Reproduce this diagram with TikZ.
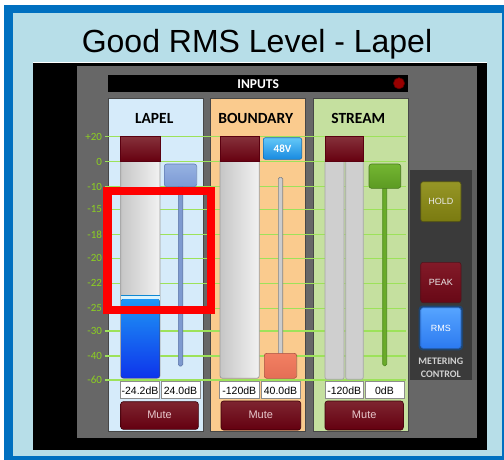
\documentclass[tikz,border=0pt]{standalone}
\usepackage{fontspec}
\setmainfont{Liberation Sans}
\newfontfamily\carl{Carlito}
\definecolor{frameblue}{HTML}{0070C0}
\definecolor{skyblue}{HTML}{B7DEE8}
\definecolor{panelgray}{HTML}{676767}
\definecolor{lapelbg}{HTML}{D6EBFA}
\definecolor{boundbg}{HTML}{FACB8E}
\definecolor{streambg}{HTML}{C5E09F}
\definecolor{gl}{HTML}{9DE25A}
\definecolor{glab}{HTML}{8CD020}
\definecolor{capT}{HTML}{85303A}
\definecolor{capB}{HTML}{66000F}
\definecolor{capD}{HTML}{5A0010}
\definecolor{mL}{HTML}{C6C6C6}
\definecolor{mR}{HTML}{F2F2F2}
\definecolor{mD}{HTML}{9A9A9A}
\definecolor{muT}{HTML}{7E2530}
\definecolor{muB}{HTML}{640010}
\definecolor{muD}{HTML}{3A0008}
\definecolor{muTx}{HTML}{E8C8CC}
\definecolor{ctrlbg}{HTML}{3A3A3A}
\definecolor{rmsglow}{HTML}{1E4673}
\begin{document}
\begin{tikzpicture}[x=1pt,y=-1pt,
  every node/.style={inner sep=0pt, outer sep=0pt},
  chpanel/.style={draw=black!72, line width=1.2pt},
  gridline/.style={draw=gl, line width=1.4pt},
  scalelbl/.style={anchor=east, text=glab, font=\carl\fontsize{11}{11}\selectfont},
  chtitle/.style={anchor=base, font=\carl\bfseries\fontsize{15.5}{16}\selectfont},
  capbox/.style={top color=capT, bottom color=capB, draw=capD, line width=0.6pt},
  meterbar/.style={left color=mL, right color=mR, draw=mD, line width=0.7pt, rounded corners=2.5pt},
  valbox/.style={fill=white, draw=black!45, line width=0.7pt},
  valtxt/.style={anchor=base, font=\fontsize{10.5}{11}\selectfont},
  mutebtn/.style={top color=muT, bottom color=muB, draw=muD, line width=0.6pt, rounded corners=2.5pt},
  mutetxt/.style={anchor=base, text=muTx, font=\fontsize{11}{11}\selectfont},
  ctrltxt/.style={text=black!8, font=\fontsize{9}{9}\selectfont},
  mctxt/.style={anchor=base, text=black!18, font=\carl\bfseries\fontsize{10}{10}\selectfont}
]
\useasboundingbox (0,0) rectangle (504,459);
\fill[white] (0,0) rectangle (504,459);
% outer frame
\fill[frameblue] (4,5) rectangle (510,465);
\fill[skyblue] (12.7,13) rectangle (501.7,456);
\node[anchor=base, font=\fontsize{32}{34}\selectfont] (title) at (257,52) {Good RMS Level - Lapel};
% black and gray panels
\fill[black] (33,62.3) rectangle (487,450);
\draw[white, line width=0.8pt] (33,62.3) -- (487,62.3);
\fill[panelgray] (76.5,66) rectangle (477,438.3);
% inputs bar
\fill[black] (108.3,74.7) rectangle (408.3,92.3);
\node[anchor=base, text=white, font=\carl\bfseries\fontsize{13.5}{14}\selectfont] (inputs) at (258.2,88.7) {INPUTS};
\filldraw[fill=red!60!black, draw=red!35!black, line width=0.6pt] (399,83.3) circle (5.6);
% channel panels
\filldraw[chpanel, fill=lapelbg] (108.3,98.7) rectangle (203.3,431.7);
\filldraw[chpanel, fill=boundbg] (210.7,98.7) rectangle (305.3,431.7);
\filldraw[chpanel, fill=streambg] (313.3,98.7) rectangle (408.3,431.7);
\node[chtitle] (tlapel) at (154.2,123) {LAPEL};
\node[chtitle] (tbound) at (255.7,123) {BOUNDARY};
\node[chtitle] (tstream) at (358.3,123) {STREAM};
% grid lines and scale labels
\foreach \yy/\lab [count=\i] in {136.7/+20,161.7/0,186.7/-10,209.3/-15,234.3/-18,258.3/-20,283.3/-22,308.3/-25,331/-30,356/-40,380/-60}{
  \draw[gridline] (105,\yy) -- (406,\yy);
  \node[scalelbl] (s\i) at (102,\yy) {\lab};
}
% control panel
\fill[ctrlbg] (410,170) rectangle (472.3,380);
\fill[panelgray!90!black] (472.3,170) rectangle (477,380);
% LAPEL strip
\draw[meterbar] (120.7,158) rectangle (160,378.3);
\fill[white!85!cyan] (121.2,294.5) rectangle (159.5,299.5);
\draw[cyan!70!blue, line width=0.9pt] (121.2,295.7) -- (159.5,295.7);
\fill[top color={rgb,255:red,30;green,150;blue,245}, bottom color={rgb,255:red,14;green,52;blue,235}, rounded corners=2.5pt] (121,299) rectangle (159.7,378);
\draw[capbox] (120.7,136.7) rectangle (160,161.7);
\filldraw[fill={rgb,255:red,126;green,154;blue,208}, draw={rgb,255:red,90;green,115;blue,168}, line width=0.6pt, rounded corners=1.5pt] (178.3,185) rectangle (182.7,366);
\draw[top color={rgb,255:red,150;green,178;blue,226}, bottom color={rgb,255:red,124;green,154;blue,212}, draw={rgb,255:red,96;green,124;blue,180}, line width=0.6pt, rounded corners=2.5pt] (164.3,164) rectangle (196.7,186.7);
\draw[valbox] (120.7,381.7) rectangle (159.3,398.3);
\draw[valbox] (161,381.7) rectangle (200,398.3);
\node[valtxt] (v1) at (140,394.3) {-24.2dB};
\node[valtxt] (v2) at (180.5,394.3) {24.0dB};
\draw[mutebtn] (120.7,401.7) rectangle (198.3,429.3);
\node[mutetxt] (m1) at (159.5,418.8) {Mute};
% BOUNDARY strip
\draw[meterbar] (220,158) rectangle (259.3,378.3);
\draw[capbox] (220,136.7) rectangle (259.3,161.7);
\draw[top color={rgb,255:red,100;green,200;blue,248}, bottom color={rgb,255:red,24;green,138;blue,224}, draw={rgb,255:red,20;green,110;blue,176}, line width=0.6pt, rounded corners=2pt] (263.3,137.7) rectangle (301.7,159.3);
\node[text=white, font=\carl\bfseries\fontsize{11}{11}\selectfont] (v48) at (282.5,148.5) {48V};
\filldraw[fill=black!20, draw=black!48, line width=0.6pt, rounded corners=1.5pt] (278.3,177.3) rectangle (282.7,356);
\draw[top color={rgb,255:red,242;green,128;blue,98}, bottom color={rgb,255:red,228;green,110;blue,86}, draw={rgb,255:red,170;green,84;blue,66}, line width=0.6pt, rounded corners=2.5pt] (264.3,353.3) rectangle (296.7,378.3);
\draw[valbox] (219.3,381.7) rectangle (259.3,398.3);
\draw[valbox] (261,381.7) rectangle (300,398.3);
\node[valtxt] (v3) at (239.3,394.3) {-120dB};
\node[valtxt] (v4) at (280.5,394.3) {40.0dB};
\draw[mutebtn] (221,401) rectangle (300.7,430);
\node[mutetxt] (m2) at (260.8,418.8) {Mute};
% STREAM strip
\filldraw[fill=black!19, draw=black!35, line width=0.7pt, rounded corners=2pt] (325,158) rectangle (344,379.3);
\filldraw[fill=black!19, draw=black!35, line width=0.7pt, rounded corners=2pt] (345.7,158) rectangle (363.3,379.3);
\draw[capbox] (325,136.7) rectangle (363.3,161.7);
\filldraw[fill={rgb,255:red,106;green,171;blue,42}, draw={rgb,255:red,78;green,138;blue,30}, line width=0.6pt, rounded corners=1.5pt] (382.7,187) rectangle (386.7,365.7);
\draw[top color={rgb,255:red,116;green,182;blue,50}, bottom color={rgb,255:red,92;green,154;blue,34}, draw={rgb,255:red,72;green,120;blue,30}, line width=0.6pt, rounded corners=2.5pt] (369,164) rectangle (400.7,188.3);
\draw[valbox] (325,381.7) rectangle (363.3,398.3);
\draw[valbox] (365,381.7) rectangle (404,398.3);
\node[valtxt] (v5) at (344.2,394.3) {-120dB};
\node[valtxt] (v6) at (384.5,394.3) {0dB};
\draw[mutebtn] (325,401) rectangle (403.3,430);
\node[mutetxt] (m3) at (364.2,418.8) {Mute};
% metering control buttons
\draw[top color={rgb,255:red,150;green,150;blue,38}, bottom color={rgb,255:red,122;green,122;blue,16}, draw={rgb,255:red,80;green,80;blue,20}, line width=0.6pt, rounded corners=2.5pt] (420.7,181.7) rectangle (461,221.7);
\node[ctrltxt] (hold) at (440.8,201.7) {HOLD};
\draw[top color={rgb,255:red,130;green,26;blue,40}, bottom color={rgb,255:red,104;green,8;blue,22}, draw={rgb,255:red,80;green,20;blue,28}, line width=0.6pt, rounded corners=2.5pt] (420.7,262.3) rectangle (461,302.7);
\node[ctrltxt] (peak) at (440.8,282.5) {PEAK};
\fill[rmsglow, rounded corners=3.5pt] (418.7,305.7) rectangle (463,350.3);
\draw[top color={rgb,255:red,86;green,164;blue,255}, bottom color={rgb,255:red,44;green,122;blue,240}, draw={rgb,255:red,40;green,100;blue,190}, line width=0.6pt, rounded corners=2.5pt] (420.7,307.7) rectangle (461,348.3);
\node[ctrltxt, text=white] (rms) at (440.8,328) {RMS};
\node[mctxt] (mc1) at (440.8,364.5) {METERING};
\node[mctxt] (mc2) at (440.8,377) {CONTROL};
% red annotation box
\draw[red, line width=8.3pt] (107.5,190.8) rectangle (210.8,310.2);
\end{tikzpicture}
\end{document}
